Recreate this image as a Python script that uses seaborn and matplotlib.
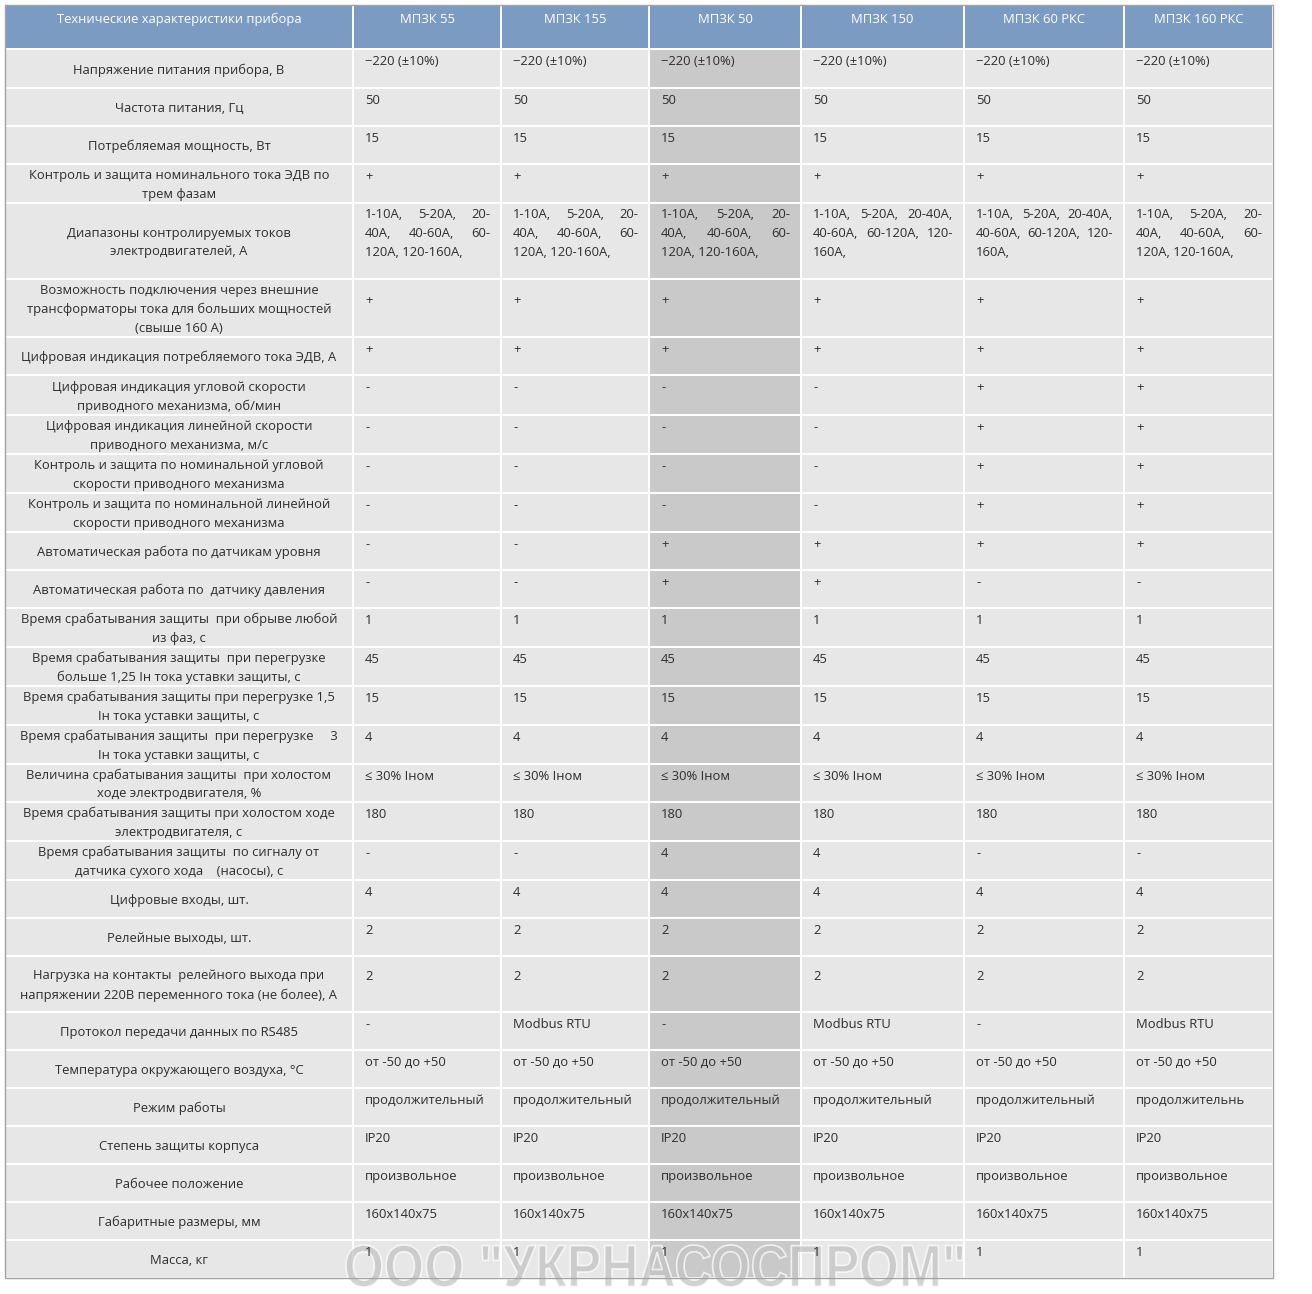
import matplotlib
matplotlib.use("Agg")
import matplotlib.pyplot as plt
import seaborn as sns
import pandas as pd
from matplotlib.patches import Rectangle, PathPatch
from matplotlib.textpath import TextPath
from matplotlib.font_manager import FontProperties
from matplotlib.transforms import Affine2D

# ---------------- data ----------------
header_title = "Технические характеристики прибора"
models = ["МПЗК 55", "МПЗК 155", "МПЗК 50", "МПЗК 150", "МПЗК 60 РКС", "МПЗК 160 РКС"]
highlight_model = "МПЗК 50"

parameters = [
    "Напряжение питания прибора, В",
    "Частота питания, Гц",
    "Потребляемая мощность, Вт",
    "Контроль и защита номинального тока ЭДВ по\nтрем фазам",
    "Диапазоны контролируемых токов\nэлектродвигателей, А",
    "Возможность подключения через внешние\nтрансформаторы тока для больших мощностей\n(свыше 160 А)",
    "Цифровая индикация потребляемого тока ЭДВ, А",
    "Цифровая индикация угловой скорости\nприводного механизма, об/мин",
    "Цифровая индикация линейной скорости\nприводного механизма, м/с",
    "Контроль и защита по номинальной угловой\nскорости приводного механизма",
    "Контроль и защита по номинальной линейной\nскорости приводного механизма",
    "Автоматическая работа по датчикам уровня",
    "Автоматическая работа по  датчику давления",
    "Время срабатывания защиты  при обрыве любой\nиз фаз, с",
    "Время срабатывания защиты  при перегрузке\nбольше 1,25 Iн тока уставки защиты, с",
    "Время срабатывания защиты при перегрузке 1,5\nIн тока уставки защиты, с",
    "Время срабатывания защиты  при перегрузке     3\nIн тока уставки защиты, с",
    "Величина срабатывания защиты  при холостом\nходе электродвигателя, %",
    "Время срабатывания защиты при холостом ходе\nэлектродвигателя, с",
    "Время срабатывания защиты  по сигналу от\nдатчика сухого хода    (насосы), с",
    "Цифровые входы, шт.",
    "Релейные выходы, шт.",
    "Нагрузка на контакты  релейного выхода при\nнапряжении 220В переменного тока (не более), А",
    "Протокол передачи данных по RS485",
    "Температура окружающего воздуха, °С",
    "Режим работы",
    "Степень защиты корпуса",
    "Рабочее положение",
    "Габаритные размеры, мм",
    "Масса, кг",
]

RANGE_A = "1-10A, 5-20A, 20-\n40A, 40-60A, 60-\n120A, 120-160A,"
RANGE_B = "1-10A, 5-20A, 20-40A,\n40-60A, 60-120A, 120-\n160A,"

mpzk_55 = ["−220 (±10%)", "50", "15", "+", RANGE_A, "+", "+", "-", "-", "-", "-", "-", "-",
           "1", "45", "15", "4", "≤ 30% Iном", "180", "-", "4", "2", "2", "-",
           "от -50 до +50", "продолжительный", "IP20", "произвольное", "160x140x75", "1"]
mpzk_155 = ["−220 (±10%)", "50", "15", "+", RANGE_A, "+", "+", "-", "-", "-", "-", "-", "-",
            "1", "45", "15", "4", "≤ 30% Iном", "180", "-", "4", "2", "2", "Modbus RTU",
            "от -50 до +50", "продолжительный", "IP20", "произвольное", "160x140x75", "1"]
mpzk_50 = ["−220 (±10%)", "50", "15", "+", RANGE_A, "+", "+", "-", "-", "-", "-", "+", "+",
           "1", "45", "15", "4", "≤ 30% Iном", "180", "4", "4", "2", "2", "-",
           "от -50 до +50", "продолжительный", "IP20", "произвольное", "160x140x75", "1"]
mpzk_150 = ["−220 (±10%)", "50", "15", "+", RANGE_B, "+", "+", "-", "-", "-", "-", "+", "+",
            "1", "45", "15", "4", "≤ 30% Iном", "180", "4", "4", "2", "2", "Modbus RTU",
            "от -50 до +50", "продолжительный", "IP20", "произвольное", "160x140x75", "1"]
mpzk_60_rks = ["−220 (±10%)", "50", "15", "+", RANGE_B, "+", "+", "+", "+", "+", "+", "+", "-",
               "1", "45", "15", "4", "≤ 30% Iном", "180", "-", "4", "2", "2", "-",
               "от -50 до +50", "продолжительный", "IP20", "произвольное", "160x140x75", "1"]
mpzk_160_rks = ["−220 (±10%)", "50", "15", "+", RANGE_A, "+", "+", "+", "+", "+", "+", "+", "-",
                "1", "45", "15", "4", "≤ 30% Iном", "180", "-", "4", "2", "2", "Modbus RTU",
                "от -50 до +50", "продолжительнь", "IP20", "произвольное", "160x140x75", "1"]

watermark = "ООО \"УКРНАСОСПРОМ\""

table = pd.DataFrame(
    {m: v for m, v in zip(models, [mpzk_55, mpzk_155, mpzk_50, mpzk_150, mpzk_60_rks, mpzk_160_rks])},
    index=parameters,
)

# ---------------- layout / style ----------------
col_edges = [5, 353, 501, 649, 801, 964, 1124, 1273]
row_edges = [5, 49, 88, 126, 164, 203, 279, 337, 375, 415, 454, 493, 532, 570, 608, 647,
             686, 725, 764, 802, 841, 880, 918, 956, 1012, 1050, 1088, 1126, 1164, 1202,
             1240, 1278]
value_pad = {4: 10, 5: 20, 22: 19}   # first-line offset for special rows
DEFAULT_PAD = 11
LINE_STEP = 19
DY = 1.5   # small global text shift

HEADER_BG = "#7b9bc3"
BODY_BG = "#e7e7e7"
HIGHLIGHT_BG = "#c9c9c9"
GRID = "white"
BORDER = "#a3a3a3"
TXT = "#2e2e2e"
FS = 9.4

sns.set_theme(style="white")
plt.rcParams["font.family"] = ["Open Sans", "DejaVu Sans"]

W, H = 1312, 1294
fig = plt.figure(figsize=(W / 100, H / 100), dpi=100)
fig.patch.set_facecolor("white")
ax = fig.add_axes([0, 0, 1, 1])
ax.set_xlim(0, W)
ax.set_ylim(H, 0)
ax.axis("off")
sns.despine(ax=ax, left=True, bottom=True)

ncols = len(col_edges) - 1

# header
for c in range(ncols):
    x0, x1 = col_edges[c], col_edges[c + 1]
    y0, y1 = row_edges[0], row_edges[1]
    ax.add_patch(Rectangle((x0, y0), x1 - x0, y1 - y0, facecolor=HEADER_BG,
                           edgecolor=GRID, lw=1.4, zorder=1))
    label = header_title if c == 0 else models[c - 1]
    ax.text((x0 + x1) / 2, 18 + DY, label, ha="center", va="center", color="white",
            fontsize=FS, zorder=3)

# body
renderer = fig.canvas.get_renderer()


def draw_value(text, x0, x1, ytop):
    lines = text.split("\n")
    for i, line in enumerate(lines):
        y = ytop + i * LINE_STEP
        words = line.split(" ")
        if i < len(lines) - 1 and len(words) > 1:
            ts = [ax.text(0, y, w, ha="left", va="center", color=TXT, fontsize=FS, zorder=3)
                  for w in words]
            widths = [t.get_window_extent(renderer).width for t in ts]
            gap = (x1 - x0 - sum(widths)) / (len(words) - 1)
            x = x0
            for t, wdt in zip(ts, widths):
                t.set_x(x)
                x += wdt + gap
        else:
            ax.text(x0, y, line, ha="left", va="center", color=TXT, fontsize=FS, zorder=3)


for r, param in enumerate(table.index):
    y0, y1 = row_edges[r + 1], row_edges[r + 2]
    # label cell
    ax.add_patch(Rectangle((col_edges[0], y0), col_edges[1] - col_edges[0], y1 - y0,
                           facecolor=BODY_BG, edgecolor=GRID, lw=1.4, zorder=1))
    lines = param.split("\n")
    yc = (y0 + y1) / 2 + DY
    for i, line in enumerate(lines):
        ax.text((col_edges[0] + col_edges[1]) / 2, yc + (i - (len(lines) - 1) / 2) * LINE_STEP,
                line, ha="center", va="center", color=TXT, fontsize=FS, zorder=3)
    for c, m in enumerate(table.columns):
        x0, x1 = col_edges[c + 1], col_edges[c + 2]
        bg = HIGHLIGHT_BG if m == highlight_model else BODY_BG
        ax.add_patch(Rectangle((x0, y0), x1 - x0, y1 - y0, facecolor=bg,
                               edgecolor=GRID, lw=1.4, zorder=1))
        draw_value(table.loc[param, m], x0 + 12, x1 - 11,
                   y0 + value_pad.get(r, DEFAULT_PAD) + DY)

# outer border
L, R, T, B = col_edges[0], col_edges[-1], row_edges[0], row_edges[-1]
ax.plot([L, R, R, L, L], [T, T, B, B, T], color=BORDER, lw=1.0, zorder=4,
        solid_joinstyle="miter")

# watermark (behind the cell text, above the cell backgrounds)
fp = FontProperties(family=["Liberation Sans Narrow", "Liberation Sans", "DejaVu Sans"],
                    weight="bold")
tp = TextPath((0, 0), watermark, size=100, prop=fp)
ext = tp.get_extents()
tx0, tx1, ty0, ty1 = 346, 963, 1245, 1287
sx = (tx1 - tx0) / ext.width
sy = (ty1 - ty0) / ext.height
trans = Affine2D().translate(-ext.x0, -ext.y0).scale(sx, -sy).translate(tx0, ty1)
wm = trans.transform_path(tp)
ax.add_patch(PathPatch(wm, facecolor="#c4c4c4", edgecolor="white", lw=1.2,
                       alpha=0.75, zorder=2))

fig.savefig("out.png", dpi=100, facecolor="white")
